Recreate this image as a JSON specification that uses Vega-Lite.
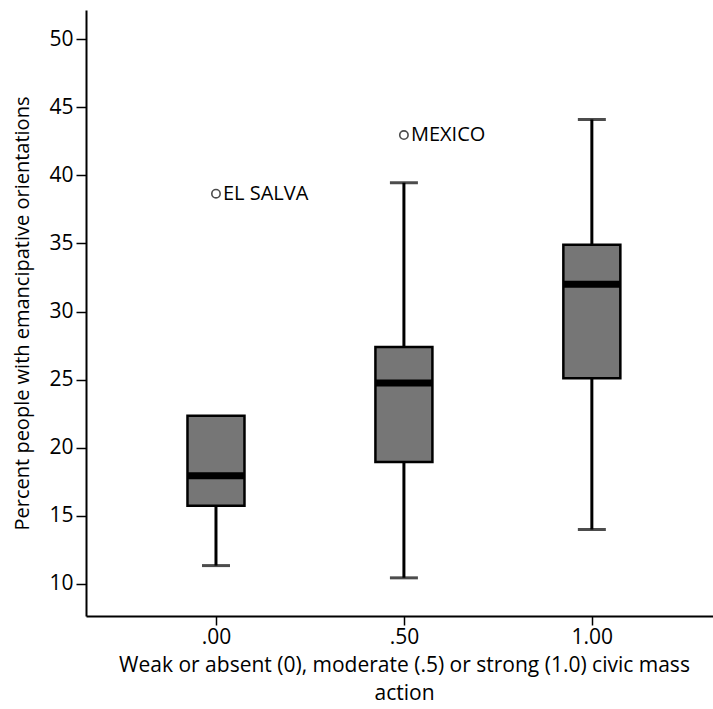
{
  "$schema": "https://vega.github.io/schema/vega-lite/v6.json",
  "autosize": "none",
  "width": 627,
  "height": 606,
  "padding": {"left": 86, "top": 10, "right": 0, "bottom": 93},
  "background": "white",
  "config": {
    "view": {"stroke": null},
    "font": "Open Sans",
    "axis": {
      "domainColor": "black",
      "domainWidth": 2,
      "tickColor": "black",
      "tickWidth": 1.5,
      "labelColor": "black",
      "titleColor": "black",
      "labelFont": "Open Sans",
      "titleFont": "Open Sans",
      "labelFontSize": 21,
      "titleFontSize": 20,
      "labelFontWeight": 500,
      "titleFontWeight": 500,
      "grid": false
    }
  },
  "datasets": {
    "boxes": [
      {"group": 0, "min": 11.35, "q1": 15.75, "median": 17.95, "q3": 22.35, "max": 22.35},
      {"group": 0.5, "min": 10.45, "q1": 18.95, "median": 24.75, "q3": 27.4, "max": 39.45},
      {"group": 1, "min": 14.0, "q1": 25.1, "median": 32.0, "q3": 34.9, "max": 44.1}
    ],
    "outliers": [
      {"group": 0, "value": 38.65, "country": "EL SALVA"},
      {"group": 0.5, "value": 42.95, "country": "MEXICO"}
    ]
  },
  "layer": [
    {
      "data": {"name": "boxes"},
      "mark": {"type": "rule", "color": "black", "strokeWidth": 3},
      "encoding": {
        "x": {
          "field": "group",
          "type": "quantitative",
          "scale": {"domain": [-0.3325, 1.309], "nice": false, "zero": false},
          "axis": {
            "values": [0, 0.5, 1],
            "labelExpr": "datum.value == 0 ? '.00' : datum.value == 0.5 ? '.50' : '1.00'",
            "tickSize": 9,
            "labelPadding": 1,
            "title": ["Weak or absent (0), moderate (.5) or strong (1.0) civic mass", "action"],
            "titleFontSize": 21,
            "titleX": 318,
            "titlePadding": 7,
            "titleLineHeight": 28
          }
        },
        "y": {
          "field": "min",
          "type": "quantitative",
          "scale": {"domain": [7.65, 52.13], "nice": false, "zero": false},
          "axis": {
            "values": [10, 15, 20, 25, 30, 35, 40, 45, 50],
            "tickSize": 10,
            "labelPadding": 3,
            "title": "Percent people with emancipative orientations",
            "titleX": -64,
            "titleBaseline": "middle"
          }
        },
        "y2": {"field": "max"}
      }
    },
    {
      "data": {"name": "boxes"},
      "mark": {"type": "tick", "orient": "horizontal", "color": "black", "size": 28, "thickness": 3},
      "encoding": {
        "x": {"field": "group", "type": "quantitative"},
        "y": {"field": "min", "type": "quantitative"}
      }
    },
    {
      "data": {"name": "boxes"},
      "transform": [{"filter": "datum.max > datum.q3"}],
      "mark": {"type": "tick", "orient": "horizontal", "color": "black", "size": 28, "thickness": 3},
      "encoding": {
        "x": {"field": "group", "type": "quantitative"},
        "y": {"field": "max", "type": "quantitative"}
      }
    },
    {
      "data": {"name": "boxes"},
      "mark": {"type": "bar", "size": 57, "fill": "#767676", "stroke": "black", "strokeWidth": 2.5},
      "encoding": {
        "x": {"field": "group", "type": "quantitative"},
        "y": {"field": "q1", "type": "quantitative"},
        "y2": {"field": "q3"}
      }
    },
    {
      "data": {"name": "boxes"},
      "mark": {"type": "tick", "orient": "horizontal", "color": "black", "size": 57, "thickness": 7, "opacity": 1},
      "encoding": {
        "x": {"field": "group", "type": "quantitative"},
        "y": {"field": "median", "type": "quantitative"}
      }
    },
    {
      "data": {"name": "outliers"},
      "mark": {"type": "point", "shape": "circle", "filled": false, "color": "black", "size": 70, "strokeWidth": 1.6},
      "encoding": {
        "x": {"field": "group", "type": "quantitative"},
        "y": {"field": "value", "type": "quantitative"}
      }
    },
    {
      "data": {"name": "outliers"},
      "mark": {"type": "text", "align": "left", "baseline": "middle", "dx": 7, "fontSize": 20, "fontWeight": 500, "font": "Open Sans", "color": "black"},
      "encoding": {
        "x": {"field": "group", "type": "quantitative"},
        "y": {"field": "value", "type": "quantitative"},
        "text": {"field": "country"}
      }
    },
    {
      "mark": {"type": "rule", "color": "black", "strokeWidth": 2},
      "encoding": {"y": {"datum": 52.1}}
    }
  ]
}
